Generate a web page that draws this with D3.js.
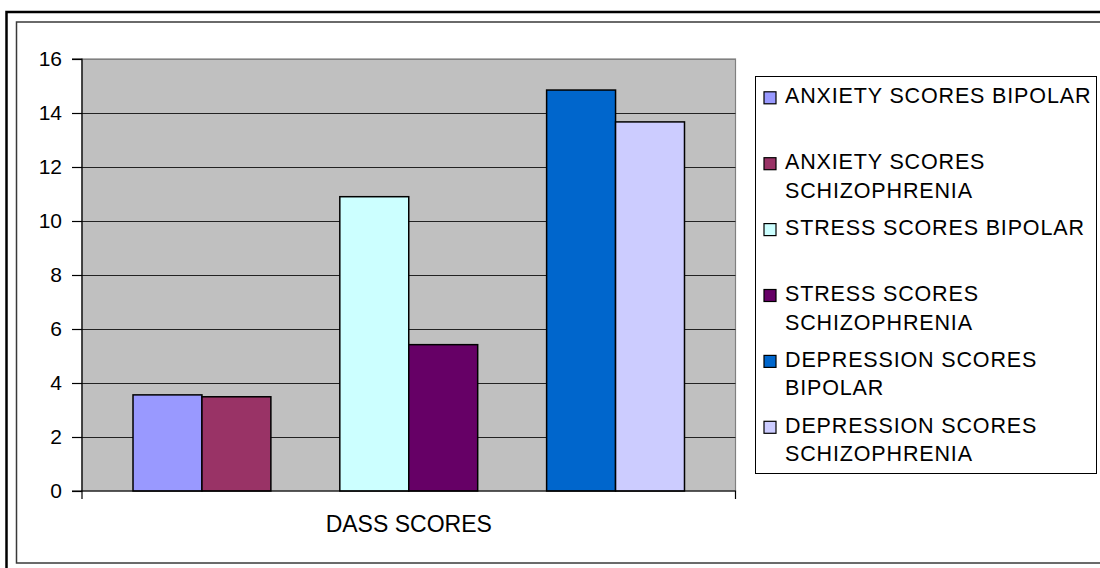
<!DOCTYPE html>
<html>
<head>
<meta charset="utf-8">
<script src="https://cdn.jsdelivr.net/npm/d3@7"></script>
<style>
  html, body { margin: 0; padding: 0; background: #fff; }
  svg { display: block; font-family: "Liberation Sans", Arial, sans-serif; }
</style>
</head>
<body>
<svg id="chart" width="1100" height="568"></svg>
<script>
// ---- data ----
const categories = ["DASS SCORES"];
const seriesNames = [
  "ANXIETY SCORES BIPOLAR",
  "ANXIETY SCORES SCHIZOPHRENIA",
  "STRESS SCORES BIPOLAR",
  "STRESS SCORES SCHIZOPHRENIA",
  "DEPRESSION SCORES BIPOLAR",
  "DEPRESSION SCORES SCHIZOPHRENIA"
];
const seriesValues = [3.56, 3.49, 10.9, 5.42, 14.85, 13.67];
const seriesColors = ["#9999FF", "#993366", "#CCFFFF", "#660066", "#0066CC", "#CCCCFF"];
const legendLines = [
  ["ANXIETY SCORES BIPOLAR"],
  ["ANXIETY SCORES", "SCHIZOPHRENIA"],
  ["STRESS SCORES BIPOLAR"],
  ["STRESS SCORES", "SCHIZOPHRENIA"],
  ["DEPRESSION SCORES", "BIPOLAR"],
  ["DEPRESSION SCORES", "SCHIZOPHRENIA"]
];
const yTicks = [0, 2, 4, 6, 8, 10, 12, 14, 16];

// ---- layout ----
const svg = d3.select("#chart");
const plot = { left: 82, top: 59, right: 735.5, bottom: 491 };

// frames
svg.append("rect").attr("x", 6.5).attr("y", 12).attr("width", 1200).attr("height", 600)
  .attr("fill", "none").attr("stroke", "#000").attr("stroke-width", 2.5);
svg.append("rect").attr("x", 16.5).attr("y", 22).attr("width", 1200).attr("height", 541)
  .attr("fill", "none").attr("stroke", "#3a3a3a").attr("stroke-width", 1.5);

const y = d3.scaleLinear().domain([0, 16]).range([plot.bottom, plot.top]);
const x0 = d3.scaleBand().domain(categories).range([plot.left, plot.right]).padding(0);

// slots: pairs of series separated by empty slots
const slots = [];
seriesNames.forEach((s, i) => {
  slots.push(s);
  if (i % 2 === 1 && i < seriesNames.length - 1) slots.push("__gap" + i);
});
const x1 = d3.scaleBand().domain(slots).range([0, x0.bandwidth()])
  .paddingInner(0).paddingOuter(0.74);

// plot background
svg.append("rect")
  .attr("x", plot.left).attr("y", plot.top)
  .attr("width", plot.right - plot.left).attr("height", plot.bottom - plot.top)
  .attr("fill", "#C0C0C0").attr("stroke", "#808080").attr("stroke-width", 1.2);

// gridlines
svg.append("g").selectAll("line").data(yTicks.filter(t => t > 0)).join("line")
  .attr("x1", plot.left).attr("x2", plot.right)
  .attr("y1", d => Math.round(y(d)) + 0.5).attr("y2", d => Math.round(y(d)) + 0.5)
  .attr("stroke", d => d === 16 ? "#808080" : "#222").attr("stroke-width", 1.2);

// bars
const g = svg.append("g").attr("transform", `translate(${x0(categories[0])},0)`);
g.selectAll("rect").data(seriesNames.map((s, i) => ({ s, v: seriesValues[i], c: seriesColors[i] })))
  .join("rect")
  .attr("x", d => x1(d.s))
  .attr("y", d => y(d.v))
  .attr("width", x1.bandwidth())
  .attr("height", d => y(0) - y(d.v))
  .attr("fill", d => d.c)
  .attr("stroke", "#000").attr("stroke-width", 1.5);

// y axis
const yAxis = d3.axisLeft(y).tickValues(yTicks).tickSize(10).tickPadding(10);
const ya = svg.append("g").attr("transform", `translate(${plot.left},0)`).call(yAxis);
ya.select(".domain").attr("stroke", "#000").attr("stroke-width", 1.2).attr("d", `M-10,${plot.bottom}H0V${plot.top}H-10`);
ya.selectAll(".tick line").attr("stroke", "#000").attr("stroke-width", 1.2);
ya.selectAll(".tick text").attr("fill", "#000").style("font-size", "21px")
  .style("font-family", "'Liberation Sans', Arial, sans-serif");

// x axis
const xAxis = d3.axisBottom(x0).tickSize(0).tickPadding(0).tickFormat(() => "");
const xa = svg.append("g").attr("transform", `translate(0,${plot.bottom})`).call(xAxis);
xa.select(".domain").attr("stroke", "#000").attr("stroke-width", 1.2)
  .attr("d", `M${plot.left},8V0H${plot.right}V8`);
svg.append("text").attr("x", x0(categories[0]) + x0.bandwidth() / 2).attr("y", 532)
  .attr("text-anchor", "middle").style("font-size", "23px").attr("fill", "#000")
  .text(categories[0]);

// legend
const leg = { x: 755.5, y: 76.5, w: 1096.5 - 755.5, h: 473.5 - 76.5 };
svg.append("rect").attr("x", leg.x).attr("y", leg.y).attr("width", leg.w).attr("height", leg.h)
  .attr("fill", "#fff").attr("stroke", "#000").attr("stroke-width", 1);
const rowH = 65.9, lineH = 28.5, firstBase = 103.3;
const items = svg.append("g").selectAll("g").data(seriesNames).join("g")
  .attr("transform", (d, i) => `translate(0,${firstBase + i * rowH})`);
items.append("rect").attr("x", 764).attr("y", -11.5).attr("width", 12).attr("height", 12)
  .attr("fill", (d, i) => seriesColors[i]).attr("stroke", "#000").attr("stroke-width", 1.2);
items.each(function (d, i) {
  const t = d3.select(this).append("text").attr("x", 785).attr("y", 0)
    .style("font-size", "21.5px").style("letter-spacing", "0.85px").attr("fill", "#000");
  legendLines[i].forEach((ln, j) => {
    t.append("tspan").attr("x", 785).attr("dy", j === 0 ? 0 : lineH).text(ln);
  });
});
</script>
</body>
</html>
